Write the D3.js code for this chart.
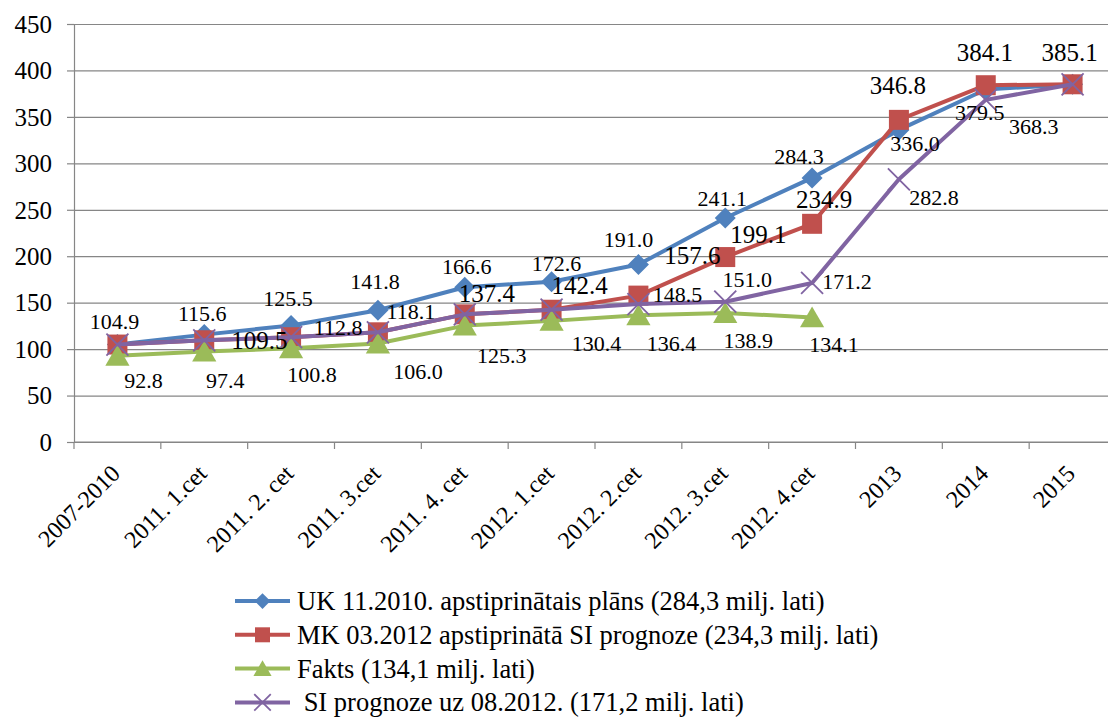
<!DOCTYPE html>
<html>
<head>
<meta charset="utf-8">
<script src="https://cdn.jsdelivr.net/npm/d3@7"></script>
</head>
<body style="margin:0">
<div id="chart"></div>
<script>
// data
const CATEGORIES = ['2007-2010', '2011. 1.cet', '2011. 2. cet', '2011. 3.cet', '2011. 4. cet',
    '2012. 1.cet', '2012. 2.cet', '2012. 3.cet', '2012. 4.cet', '2013', '2014', '2015'];
const Y_TICKS = [0, 50, 100, 150, 200, 250, 300, 350, 400, 450];

const UK_PLAN   = [104.9, 115.6, 125.5, 141.8, 166.6, 172.6, 191.0, 241.1, 284.3, 336.0, 379.5, 385.1];
const MK_SI     = [104.9, 109.5, 112.8, 118.1, 137.4, 142.4, 157.6, 199.1, 234.9, 346.8, 384.1, 385.1];
const FAKTS     = [92.8, 97.4, 100.8, 106.0, 125.3, 130.4, 136.4, 138.9, 134.1, null, null, null];
const SI_08     = [104.9, 109.5, 112.8, 118.1, 137.4, 142.4, 148.5, 151.0, 171.2, 282.8, 368.3, 385.1];

const LEGEND = [
    'UK 11.2010. apstiprinātais plāns (284,3 milj. lati)',
    'MK 03.2012 apstiprinātā SI prognoze (234,3 milj. lati)',
    'Fakts (134,1 milj. lati)',
    '\u00a0SI prognoze uz 08.2012. (171,2 milj. lati)'
];

(function(){
    var WIDTH         = 1108,  // of svg
        HEIGHT        = 717,   // of svg
        PLOT_LEFT     = 74,    // y axis position
        PLOT_RIGHT    = 1116,  // plot runs past the right edge (cropped)
        PLOT_TOP      = 24,    // y of 450
        PLOT_BOTTOM   = 442,   // y of 0
        GRID_COLOR    = '#868686',
        FONT          = "'Liberation Serif'",
        LINE_WIDTH    = 4;

    // label offsets (centre of text relative to point), null = no label
    var BLUE_LBL   = [[-3,-23],[-2,-21],[-3,-27],[-3,-29],[2,-21],[5,-18],[-10,-25],[-3,-20],[-13,-22],[16,13],[-6,23],null],
        RED_LBL    = [null,[55,0],null,null,[22,-21],[28,-24],[54,-40],[33,-23],[12,-25],[-1,-35],[-1,-33],[-3,-32]],
        GREEN_LBL  = [[26,25],[21,29],[21,26],[40,28],[37,30],[45,22],[33,28],[23,27],[22,27],null,null,null],
        PURPLE_LBL = [null,null,[47,-10],[33,-21],null,null,[39,-10],[22,-22],[35,-2],[35,18],[48,26],null];

    var series = [
        { values: UK_PLAN, color: '#4F81BD', marker: 'diamond', labels: BLUE_LBL,   font: 22 },
        { values: MK_SI,   color: '#C0504D', marker: 'square',  labels: RED_LBL,    font: 25 },
        { values: FAKTS,   color: '#9BBB59', marker: 'triangle',labels: GREEN_LBL,  font: 22 },
        { values: SI_08,   color: '#8064A2', marker: 'cross',   labels: PURPLE_LBL, font: 22 }
    ];

    var svg = d3.select('#chart').append('svg')
        .attr('width', WIDTH)
        .attr('height', HEIGHT);

    // helper: every text goes through here so the font is set the same way
    function addText(parent, size){
        return parent.append('text')
            .style('font-family', FONT)
            .attr('font-size', size)
            .attr('fill', '#000');
    }

    var x = d3.scaleBand()
        .domain(CATEGORIES)
        .range([PLOT_LEFT, PLOT_RIGHT])
        .padding(0);
    var cx = function(c){ return x(c) + x.bandwidth() / 2; };

    var y = d3.scaleLinear()
        .domain([0, 450])
        .range([PLOT_BOTTOM, PLOT_TOP]);

    // gridlines + y ticks (lines only, labels drawn below)
    svg.append('g')
        .attr('transform', 'translate(' + PLOT_LEFT + ',0)')
        .call(d3.axisLeft(y).tickValues(Y_TICKS).tickSize(-(PLOT_RIGHT - PLOT_LEFT)).tickFormat(''))
        .call(function(g){
            g.select('.domain').remove();
            g.selectAll('line').attr('stroke', GRID_COLOR).attr('stroke-width', 1.2);
        });
    svg.append('g')
        .attr('transform', 'translate(' + PLOT_LEFT + ',0)')
        .call(d3.axisLeft(y).tickValues(Y_TICKS).tickSize(7).tickFormat(''))
        .call(function(g){
            g.select('.domain').attr('stroke', GRID_COLOR).attr('stroke-width', 1.2);
            g.selectAll('line').attr('stroke', GRID_COLOR).attr('stroke-width', 1.2);
        });

    Y_TICKS.forEach(function(t){
        addText(svg, 25)
            .attr('x', PLOT_LEFT - 22)
            .attr('y', y(t))
            .attr('dy', '0.35em')
            .attr('text-anchor', 'end')
            .text(t);
    });

    // x axis line + boundary ticks
    svg.append('line')
        .attr('x1', PLOT_LEFT).attr('x2', PLOT_RIGHT)
        .attr('y1', y(0)).attr('y2', y(0))
        .attr('stroke', GRID_COLOR).attr('stroke-width', 1.2);

    var bounds = CATEGORIES.map(function(c){ return x(c); }).concat([x(CATEGORIES[CATEGORIES.length-1]) + x.bandwidth()]);
    svg.selectAll('line.xtick')
        .data(bounds)
        .enter().append('line')
        .attr('class', 'xtick')
        .attr('x1', function(d){ return d; }).attr('x2', function(d){ return d; })
        .attr('y1', y(0)).attr('y2', y(0) + 7)
        .attr('stroke', GRID_COLOR).attr('stroke-width', 1.2);

    CATEGORIES.forEach(function(c){
        addText(svg, 24)
            .attr('text-anchor', 'end')
            .attr('transform', 'translate(' + (cx(c) + 4) + ',' + (y(0) + 33) + ') rotate(-45)')
            .text(c);
    });

    // marker paths
    function markerPath(type, s){
        switch(type){
            case 'diamond':  return 'M0,' + (-s) + 'L' + s + ',0L0,' + s + 'L' + (-s) + ',0Z';
            case 'square':   return 'M' + (-s) + ',' + (-s) + 'H' + s + 'V' + s + 'H' + (-s) + 'Z';
            case 'triangle': return 'M0,' + (-s) + 'L' + (s * 1.1) + ',' + (s * 0.9) + 'L' + (-s * 1.1) + ',' + (s * 0.9) + 'Z';
            case 'cross':    return 'M' + (-s) + ',' + (-s) + 'L' + s + ',' + s + 'M' + (-s) + ',' + s + 'L' + s + ',' + (-s);
        }
    }
    var MARKER_SIZE = { diamond: 10.5, square: 10, triangle: 11, cross: 11 };

    function drawMarker(g, type, color, s){
        var p = g.append('path').attr('d', markerPath(type, s));
        if(type === 'cross'){
            p.attr('fill', 'none').attr('stroke', color).attr('stroke-width', 1.8);
        } else {
            p.attr('fill', color);
        }
    }

    var line = d3.line()
        .defined(function(d){ return d.v !== null; })
        .x(function(d){ return cx(d.c); })
        .y(function(d){ return y(d.v); });

    series.forEach(function(s){
        var pts = CATEGORIES.map(function(c, i){ return { c: c, v: s.values[i] }; });
        svg.append('path')
            .datum(pts)
            .attr('d', line)
            .attr('fill', 'none')
            .attr('stroke', s.color)
            .attr('stroke-width', LINE_WIDTH)
            .attr('stroke-linejoin', 'round');

        pts.filter(function(d){ return d.v !== null; }).forEach(function(d){
            var g = svg.append('g')
                .attr('transform', 'translate(' + cx(d.c) + ',' + y(d.v) + ')');
            drawMarker(g, s.marker, s.color, MARKER_SIZE[s.marker]);
        });
    });

    // data labels on top
    series.forEach(function(s){
        CATEGORIES.forEach(function(c, i){
            var off = s.labels[i];
            if(!off || s.values[i] === null) return;
            addText(svg, s.font)
                .attr('x', cx(c) + off[0])
                .attr('y', y(s.values[i]) + off[1])
                .attr('dy', '0.35em')
                .attr('text-anchor', 'middle')
                .text(s.values[i].toFixed(1));
        });
    });

    // legend
    var LEG_X = 235, LEG_Y = 601, LEG_STEP = 33.8;
    series.forEach(function(s, i){
        var ly = LEG_Y + i * LEG_STEP;
        svg.append('line')
            .attr('x1', LEG_X).attr('x2', LEG_X + 55)
            .attr('y1', ly).attr('y2', ly)
            .attr('stroke', s.color).attr('stroke-width', LINE_WIDTH);
        var g = svg.append('g').attr('transform', 'translate(' + (LEG_X + 27.5) + ',' + ly + ')');
        drawMarker(g, s.marker, s.color, MARKER_SIZE[s.marker] * 0.75);
        addText(svg, 26.5)
            .attr('x', LEG_X + 62)
            .attr('y', ly + 9)
            .text(LEGEND[i]);
    });
})();
</script>
</body>
</html>
